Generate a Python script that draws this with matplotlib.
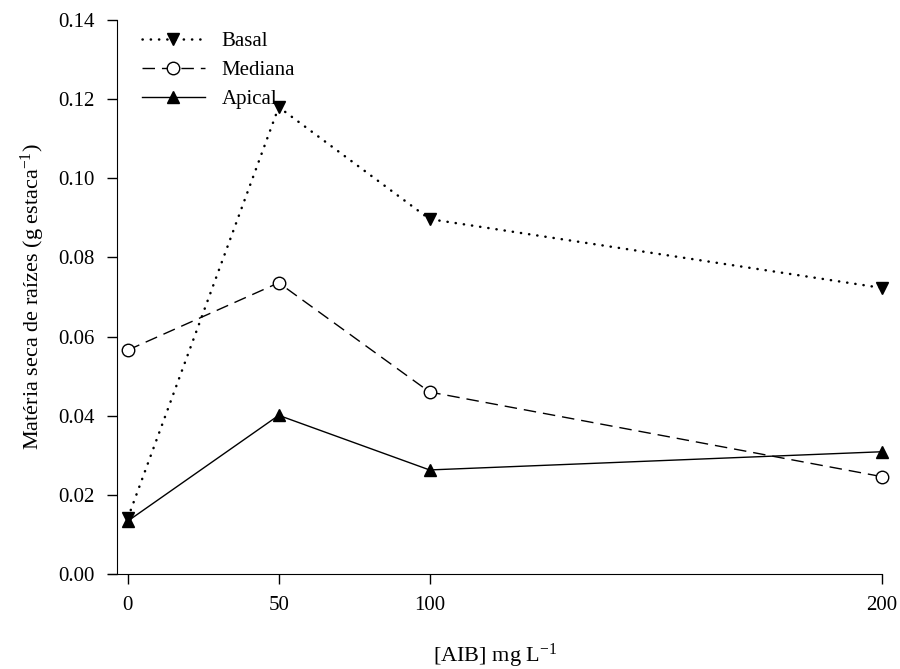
import matplotlib
matplotlib.use('Agg')
import matplotlib.pyplot as plt

plt.rcParams['font.family'] = ['Liberation Serif', 'DejaVu Serif']
plt.rcParams['mathtext.fontset'] = 'custom'
plt.rcParams['mathtext.rm'] = 'Liberation Serif'
plt.rcParams['mathtext.it'] = 'Liberation Serif:italic'

# doses of AIB; 200 is drawn further out on the axis
doses = ['0', '50', '100', '200']
x_pos = [0, 50, 100, 250]

basal = [0.0142, 0.118, 0.0897, 0.0723]
mediana = [0.0566, 0.0736, 0.0460, 0.0246]
apical = [0.0134, 0.0401, 0.0263, 0.0309]

fig, ax = plt.subplots(figsize=(9, 6.69), dpi=100)
fig.subplots_adjust(left=0.12, right=0.98, top=0.97, bottom=0.142)

ax.plot(x_pos, basal, color='black', linestyle=(0, (0.1, 3.2)), linewidth=1.8,
        dash_capstyle='round', marker='v', markersize=9, label='Basal',
        clip_on=False, zorder=3)
ax.plot(x_pos, mediana, color='black', linestyle=(0, (9, 5)), linewidth=1.0,
        marker='o', markersize=9, markerfacecolor='white', label='Mediana',
        clip_on=False, zorder=3)
ax.plot(x_pos, apical, color='black', linestyle='-', linewidth=1.0,
        marker='^', markersize=9, label='Apical', clip_on=False, zorder=3)

ax.set_xlim(-6.6, 250)
ax.set_ylim(0, 0.14)
ax.set_xticks(x_pos)
ax.set_xticklabels(doses)
ax.set_yticks([0.0, 0.02, 0.04, 0.06, 0.08, 0.10, 0.12, 0.14])
ax.set_yticklabels(['%.2f' % v for v in ax.get_yticks()])

ax.spines['top'].set_visible(False)
ax.spines['right'].set_visible(False)
ax.spines['left'].set_position(('data', -3.6))
ax.tick_params(direction='out', length=7, width=1, labelsize=15, pad=9)

ax.set_ylabel('Matéria seca de raízes (g estaca$^{-1}$)', fontsize=16, labelpad=8)
ax.set_xlabel('[AIB] mg L$^{-1}$', fontsize=16, labelpad=19)

ax.legend(loc='upper left', frameon=False, fontsize=15, handlelength=3.0,
          bbox_to_anchor=(0.02, 1.013), labelspacing=0.45, handletextpad=0.8)

plt.savefig('out.png', dpi=100)
